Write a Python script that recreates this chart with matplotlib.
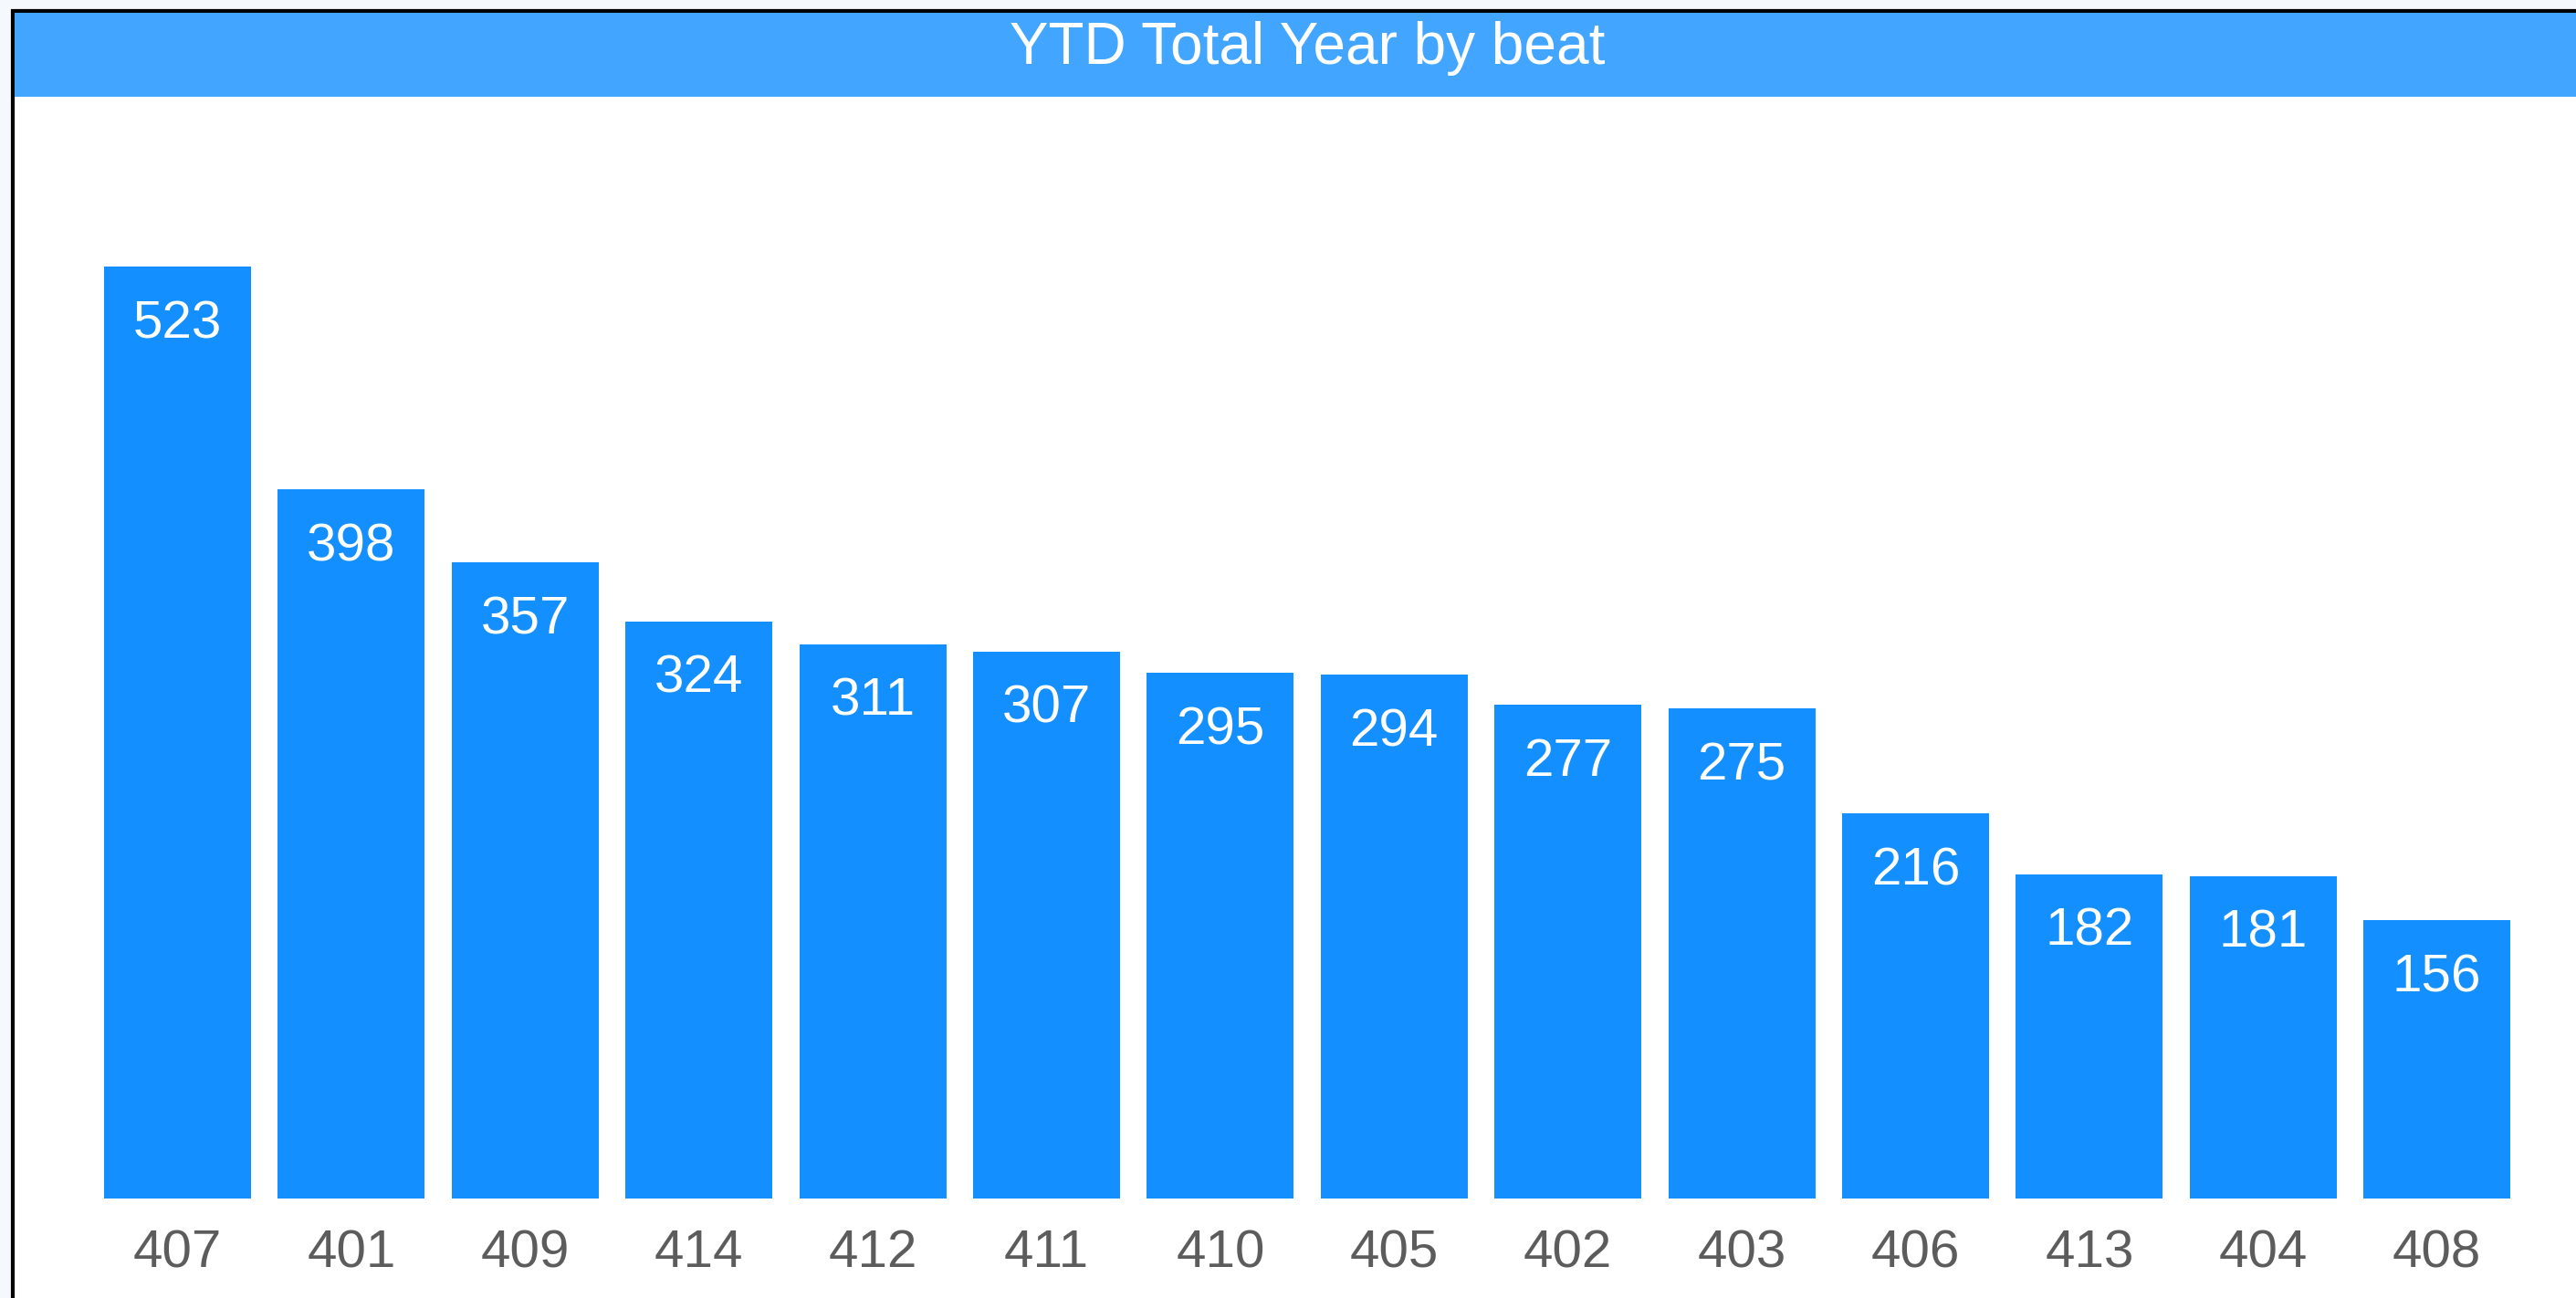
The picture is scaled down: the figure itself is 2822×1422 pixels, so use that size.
import matplotlib
matplotlib.use("Agg")
import matplotlib.pyplot as plt
from matplotlib.patches import Rectangle

beats = ["407", "401", "409", "414", "412", "411", "410", "405", "402", "403", "406", "413", "404", "408"]
totals = [523, 398, 357, 324, 311, 307, 295, 294, 277, 275, 216, 182, 181, 156]
title = "YTD Total Year by beat"

W, H = 2822, 1422
DPI = 100
plt.rcParams['font.family'] = ['Liberation Sans', 'DejaVu Sans']

fig = plt.figure(figsize=(W / DPI, H / DPI), dpi=DPI)
fig.patch.set_facecolor("#f5f9fe")

def fx(px):
    return px / W

def fy(py):
    return 1 - py / H

# card
card = Rectangle((fx(14), fy(H + 20)), fx(W + 40), (H + 8) / H,
                 transform=fig.transFigure, facecolor="white",
                 edgecolor="black", linewidth=3.0, zorder=-10)
fig.patches.append(card)
# title bar
bar_rect = Rectangle((fx(16), fy(106)), fx(W), (106 - 14) / H,
                     transform=fig.transFigure, facecolor="#42a5ff",
                     edgecolor="none", zorder=-5)
fig.patches.append(bar_rect)
fig.text(fx(1432), fy(70), title, color="white", fontsize=46,
         ha="center", va="baseline", zorder=2)

# axes: bottom at y=1313 px, top at 106 px; x from 16 to 2822
ax_left, ax_right = 16, W
ax_top, ax_bottom = 106, 1313
ax = fig.add_axes([fx(ax_left), fy(ax_bottom), fx(ax_right - ax_left),
                   (ax_bottom - ax_top) / H])
ax.set_facecolor("none")
ax.set_zorder(1)

pitch = 190.4
c0 = 194.5
x = list(range(len(beats)))
ax.bar(x, totals, width=161 / pitch, color="#148fff", zorder=2)
ax.set_xlim((ax_left - c0) / pitch, (ax_right - c0) / pitch)
ax.set_ylim(0, (ax_bottom - ax_top) / 1.952)

for xi, v in zip(x, totals):
    ax.annotate(str(v), xy=(xi, v), xytext=(0, -78 * 72 / DPI),
                textcoords="offset points", ha="center", va="baseline",
                color="white", fontsize=42, zorder=3)

ax.set_xticks(x)
ax.set_xticklabels(beats, fontsize=42, color="#5c5c5c")
ax.tick_params(axis="x", length=0, pad=24)
ax.set_yticks([])
for s in ax.spines.values():
    s.set_visible(False)

fig.savefig("out.png", dpi=DPI, facecolor=fig.get_facecolor())
